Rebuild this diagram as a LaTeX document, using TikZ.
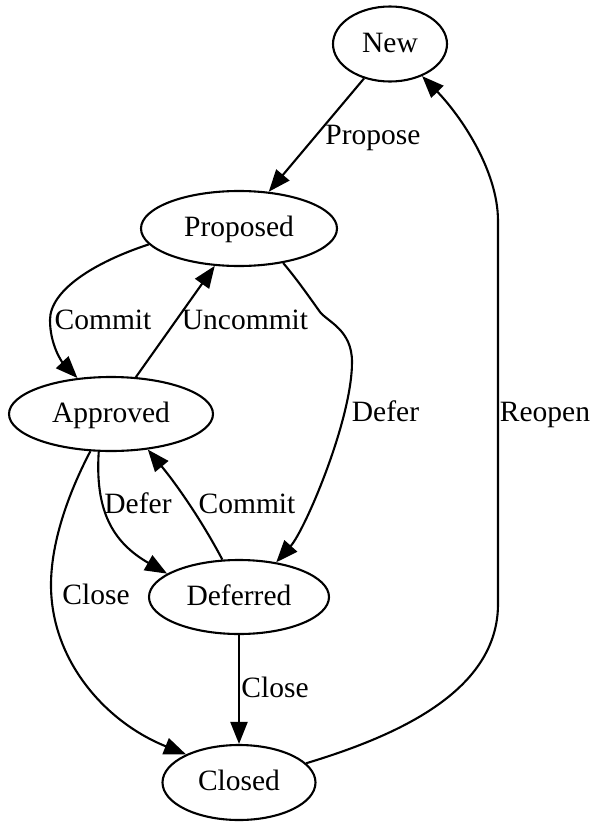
\documentclass[tikz,border=0pt]{standalone}
\usepackage{fontspec}
\setmainfont{Liberation Serif}
\usetikzlibrary{arrows.meta,shapes.geometric}
\begin{document}
\begin{tikzpicture}[x=1pt,y=-1pt,
  txt/.style={font=\fontsize{29.5}{35}\selectfont,text height=20pt,text depth=4pt},
  state/.style={ellipse,draw,line width=2.1pt,inner sep=0pt,txt},
  edge/.style={line width=2.1pt,-{Triangle[length=22pt,width=17pt]}},
  lbl/.style={inner sep=0pt,txt}]
\useasboundingbox (0,0) rectangle (592,822);
% states
\node[state,minimum width=114pt,minimum height=75pt] (New) at (390,44) {New};
\node[state,minimum width=196pt,minimum height=75pt] (Proposed) at (239,228.5) {Proposed};
\node[state,minimum width=204pt,minimum height=74pt] (Approved) at (111,414) {Approved};
\node[state,minimum width=180pt,minimum height=74pt] (Deferred) at (239,597) {Deferred};
\node[state,minimum width=153pt,minimum height=75pt] (Closed) at (239,782.5) {Closed};
% edges
\draw[edge] (New.233) -- (Proposed.51);
\draw[edge] (Proposed.190) .. controls (95,262) and (50,290) .. (50,320)
  .. controls (50,345) and (62,362) .. (Approved.133);
\draw[edge] (Approved.56) -- (Proposed.237);
\draw[edge] (Proposed.322) .. controls (296,278) and (310,298) .. (320,312)
  .. controls (328,322) and (352,330) .. (352,362)
  .. controls (352,420) and (305,530) .. (Deferred.43);
\draw[edge] (Approved.252) .. controls (95,510) and (112,542) .. (Deferred.162);
\draw[edge] (Deferred.114) .. controls (202,521) and (177,485) .. (Approved.316);
\draw[edge] (Approved.241) .. controls (70,490) and (51,540) .. (51,585)
  .. controls (51,660) and (105,722) .. (Closed.152);
\draw[edge] (Deferred.south) -- (Closed.north);
\draw[edge] (Closed.16) .. controls (400,735) and (498,690) .. (498,604)
  -- (498,221) .. controls (498,170) and (460,115) .. (New.315);
% labels
\node[lbl] (lPropose) at (373,136) {Propose};
\node[lbl] (lCommitA) at (103,321) {Commit};
\node[lbl] (lUncommit) at (245,321) {Uncommit};
\node[lbl] (lDeferD) at (385.5,413) {Defer};
\node[lbl] (lReopen) at (545,413) {Reopen};
\node[lbl] (lDeferA) at (138,505) {Defer};
\node[lbl] (lCommitD) at (247,505) {Commit};
\node[lbl] (lCloseA) at (96,596) {Close};
\node[lbl] (lCloseD) at (275,689) {Close};
\end{tikzpicture}
\end{document}
